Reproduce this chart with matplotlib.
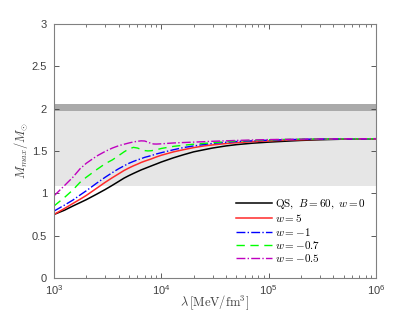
import numpy as np
import matplotlib
matplotlib.use("Agg")
import matplotlib.pyplot as plt
from matplotlib.ticker import LogLocator, NullFormatter

plt.rcParams['mathtext.fontset'] = 'cm'
plt.rcParams['font.family'] = ['Liberation Sans', 'DejaVu Sans']

# lambda values (MeV/fm^3)
lam = [1e3, 1.25e3, 1.5e3, 1.75e3, 2e3, 2.5e3, 3e3, 3.5e3, 4e3, 4.5e3,
       5e3, 5.5e3, 6e3, 6.5e3, 7e3, 7.5e3, 8e3, 8.5e3, 9e3, 1e4,
       1.3e4, 1.6e4, 2e4, 2.5e4, 3e4, 4e4, 5e4, 7e4, 1e5, 1.5e5,
       2e5, 3e5, 5e5, 1e6]

m_qs = [0.75, 0.80, 0.85, 0.89, 0.925, 0.99, 1.045, 1.095, 1.14, 1.18,
        1.21, 1.235, 1.257, 1.277, 1.293, 1.308, 1.322, 1.335, 1.347, 1.37,
        1.42, 1.455, 1.49, 1.515, 1.535, 1.56, 1.575, 1.592, 1.605, 1.617,
        1.625, 1.633, 1.64, 1.645]
m_w5 = [0.75, 0.82, 0.88, 0.93, 0.975, 1.06, 1.13, 1.185, 1.23, 1.27,
        1.30, 1.325, 1.345, 1.365, 1.38, 1.393, 1.405, 1.418, 1.43, 1.45,
        1.49, 1.515, 1.54, 1.56, 1.572, 1.588, 1.598, 1.61, 1.62, 1.628,
        1.633, 1.638, 1.642, 1.645]
m_wm1 = [0.79, 0.86, 0.92, 0.98, 1.03, 1.12, 1.19, 1.245, 1.29, 1.325,
         1.355, 1.377, 1.395, 1.41, 1.425, 1.435, 1.445, 1.455, 1.465, 1.48,
         1.515, 1.54, 1.56, 1.577, 1.59, 1.603, 1.612, 1.62, 1.628, 1.634,
         1.638, 1.641, 1.643, 1.645]
m_wm07 = [0.85, 0.95, 1.04, 1.13, 1.19, 1.28, 1.35, 1.395, 1.445, 1.49,
          1.525, 1.543, 1.535, 1.518, 1.505, 1.501, 1.503, 1.508, 1.515, 1.53,
          1.555, 1.568, 1.58, 1.59, 1.598, 1.61, 1.618, 1.625, 1.632, 1.637,
          1.64, 1.642, 1.644, 1.645]
m_wm05 = [0.97, 1.09, 1.19, 1.29, 1.355, 1.44, 1.495, 1.535, 1.562, 1.58,
          1.595, 1.607, 1.615, 1.62, 1.618, 1.605, 1.59, 1.583, 1.582, 1.585,
          1.595, 1.60, 1.605, 1.61, 1.615, 1.62, 1.625, 1.63, 1.635, 1.638,
          1.64, 1.642, 1.644, 1.645]

# observational bands
band_light = (1.09, 1.97)
band_dark = (1.97, 2.05)

fig = plt.figure(figsize=(4.15, 3.12), dpi=100)
ax = fig.add_axes([0.130, 0.109, 0.776, 0.814])

ax.axhspan(band_light[0], band_light[1], color='#e6e6e6', lw=0, zorder=0)
ax.axhspan(band_dark[0], band_dark[1], color='#aaaaaa', lw=0, zorder=0)

ax.plot(lam, m_qs, color='k', lw=1.1, label=r'$\mathrm{QS},\ B=60,\ w=0$')
ax.plot(lam, m_w5, color='#ff2a2a', lw=1.1, label=r'$w=5$')
ax.plot(lam, m_wm1, color='b', lw=1.0, ls='-.', label=r'$w=-1$')
ax.plot(lam, m_wm07, color='#00ff00', lw=1.0, ls=(0, (6, 4)), label=r'$w=-0.7$')
ax.plot(lam, m_wm05, color='m', lw=1.0, ls='-.', label=r'$w=-0.5$')

ax.set_xscale('log')
ax.set_xlim(1e3, 1e6)
ax.set_ylim(0, 3)
ax.set_yticks([0, 0.5, 1, 1.5, 2, 2.5, 3])
ax.set_yticklabels(['0', '0.5', '1', '1.5', '2', '2.5', '3'])
ax.xaxis.set_minor_locator(LogLocator(base=10, subs=np.arange(2, 10)))
ax.xaxis.set_minor_formatter(NullFormatter())

ax.tick_params(which='both', direction='in', top=True, right=True,
               colors='#404040', labelsize=8)
ax.tick_params(which='major', length=3.5, width=0.6)
ax.tick_params(which='minor', length=2, width=0.5)
ax.tick_params(axis='x', pad=4)
ax.tick_params(axis='y', pad=5)
for s in ax.spines.values():
    s.set_color('#808080')
    s.set_linewidth(0.8)

ax.set_xlabel(r'$\lambda\,[\mathrm{MeV/fm^3}]$', fontsize=9, color='#404040', labelpad=-3)
ax.set_ylabel(r'$M_{max}/M_{\odot}$', fontsize=9, color='#404040', labelpad=1)

ax.legend(loc='lower right', bbox_to_anchor=(1.0, 0.015), frameon=False,
          fontsize=8, handlelength=3.2, handletextpad=0.3, labelspacing=0.12)

fig.savefig('out.png', dpi=100)
